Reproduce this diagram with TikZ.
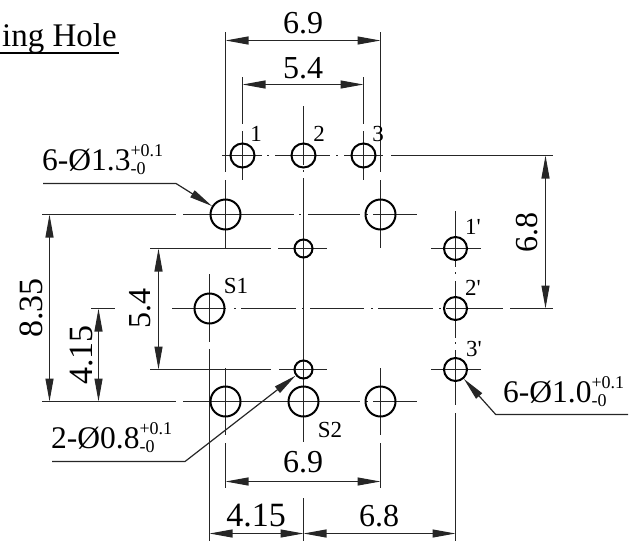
\documentclass[tikz,border=0pt]{standalone}
\usepackage{fontspec}
\setmainfont{Liberation Serif}[Ligatures=TeXOff]
\usetikzlibrary{arrows.meta}
\newcommand{\fsz}[1]{\fontsize{#1pt}{#1pt}\selectfont}
\newcommand{\tolr}[1]{#1\rlap{\raisebox{14pt}{\fsz{18}+0.1}}\raisebox{-4pt}{\fsz{18}-0}}
\tikzset{
  ctr/.style={line width=1.1pt,black!85},
  dimline/.style={line width=1.1pt,black!85,{Triangle[length=23pt,width=8pt]}-{Triangle[length=23pt,width=8pt]}},
  leader/.style={line width=1.2pt,black!85,-{Triangle[length=23pt,width=8pt]}},
  hole/.style={circle,draw=black,line width=2pt,fill=none,inner sep=0pt,minimum size=#1},
  bigtxt/.style={inner sep=0pt,anchor=base,font=\fsz{32}},
  vtxt/.style={inner sep=0pt,anchor=base,rotate=90,font=\fsz{34}},
  tagtxt/.style={inner sep=0pt,anchor=base,font=\fsz{23}},
  note/.style={inner sep=0pt,anchor=base west,font=\fsz{31.5}},
}
\begin{document}
\begin{tikzpicture}[x=1pt,y=-1pt]
\useasboundingbox (0,0) rectangle (639,541);
% title
\node[inner sep=0pt,anchor=base east,font=\fsz{33}] (title) at (117,46) {ing Hole};
\draw[line width=1.5pt] (0,53) -- (119,53);
% reference coordinates for dimensions
\coordinate (t69a) at (225.5,40.5); \coordinate (t69b) at (380.5,40.5);
\coordinate (t54a) at (242.5,84.5); \coordinate (t54b) at (363.5,84.5);
\coordinate (b69a) at (225.5,481.5); \coordinate (b69b) at (380.5,481.5);
\coordinate (b415a) at (209.5,533.5); \coordinate (bm) at (303.5,533.5); \coordinate (b68b) at (455.5,533.5);
\coordinate (l835a) at (49.5,214.5); \coordinate (l835b) at (49.5,401.5);
\coordinate (l415a) at (98.5,308.5); \coordinate (l415b) at (98.5,401.5);
\coordinate (l54a) at (158.5,248.5); \coordinate (l54b) at (158.5,369.5);
\coordinate (r68a) at (545.5,155.5); \coordinate (r68b) at (545.5,308.5);
% centre and extension lines: vertical
\draw[ctr] (225.5,32) -- (225.5,172) (225.5,180) -- (225.5,248);
\draw[ctr] (380.5,32) -- (380.5,172) (380.5,180) -- (380.5,248);
\draw[ctr] (242.5,77) -- (242.5,124) (242.5,131) -- (242.5,180);
\draw[ctr] (363.5,77) -- (363.5,124) (363.5,131) -- (363.5,180);
\draw[ctr] (303.5,106) -- (303.5,165) (303.5,170) -- (303.5,172) (303.5,178) -- (303.5,442) (303.5,498) -- (303.5,541);
\draw[ctr] (455.5,211) -- (455.5,267) (455.5,272) -- (455.5,274) (455.5,281) -- (455.5,338) (455.5,342) -- (455.5,344) (455.5,350) -- (455.5,405) (455.5,413) -- (455.5,541);
\draw[ctr] (209.5,274) -- (209.5,342) (209.5,349) -- (209.5,541);
\draw[ctr] (225.5,368) -- (225.5,435) (225.5,443) -- (225.5,488);
\draw[ctr] (380.5,368) -- (380.5,435) (380.5,443) -- (380.5,488);
% centre and extension lines: horizontal
\draw[ctr] (222,155.5) -- (262,155.5) (267,155.5) -- (269,155.5) (275,155.5) -- (330,155.5) (336,155.5) -- (338,155.5) (344,155.5) -- (383,155.5) (391,155.5) -- (553,155.5);
\draw[ctr] (42,214.5) -- (176,214.5) (183,214.5) -- (294,214.5) (299,214.5) -- (301,214.5) (308,214.5) -- (360,214.5) (366,214.5) -- (368,214.5) (373,214.5) -- (417,214.5);
\draw[ctr] (150,248.5) -- (271,248.5) (278,248.5) -- (327,248.5) (431,248.5) -- (481,248.5);
\draw[ctr] (91,308.5) -- (115,308.5) (172,308.5) -- (226,308.5) (234,308.5) -- (236,308.5) (241,308.5) -- (296,308.5) (302,308.5) -- (304,308.5) (310,308.5) -- (364,308.5) (371,308.5) -- (373,308.5) (378,308.5) -- (433,308.5) (439,308.5) -- (441,308.5) (446,308.5) -- (503,308.5) (510,308.5) -- (553,308.5);
\draw[ctr] (150,369.5) -- (271,369.5) (279,369.5) -- (327,369.5) (431,369.5) -- (481,369.5);
\draw[ctr] (42,401.5) -- (176,401.5) (183,401.5) -- (360,401.5) (366,401.5) -- (368,401.5) (373,401.5) -- (417,401.5);
% holes
\node[hole=24pt] (h1) at (242.5,155.5) {};
\node[hole=24pt] (h2) at (303.5,155.5) {};
\node[hole=24pt] (h3) at (363.5,155.5) {};
\node[hole=30pt] (a1) at (225.5,214.5) {};
\node[hole=30pt] (a2) at (380.5,214.5) {};
\node[hole=18pt] (m1) at (303.5,248.5) {};
\node[hole=18pt] (m2) at (303.5,369.5) {};
\node[hole=23pt] (p1) at (455.5,248.5) {};
\node[hole=23pt] (p2) at (455.5,308.5) {};
\node[hole=23pt] (p3) at (455.5,369.5) {};
\node[hole=30pt] (s1) at (209.5,308.5) {};
\node[hole=30pt] (b1) at (225.5,401.5) {};
\node[hole=30pt] (s2) at (303.5,401.5) {};
\node[hole=30pt] (b3) at (380.5,401.5) {};
% dimension arrows
\draw[dimline] (t69a) -- (t69b);
\draw[dimline] (t54a) -- (t54b);
\draw[dimline] (b69a) -- (b69b);
\draw[dimline] (b415a) -- (bm);
\draw[dimline] (bm) -- (b68b);
\draw[dimline] (l835a) -- (l835b);
\draw[dimline] (l415a) -- (l415b);
\draw[dimline] (l54a) -- (l54b);
\draw[dimline] (r68a) -- (r68b);
% numbers
\node[bigtxt] (d1) at (303,33) {6.9};
\node[bigtxt] (d2) at (303,78) {5.4};
\node[bigtxt] (d3) at (303,472) {6.9};
\node[bigtxt,font=\fsz{34}] (d4) at (256,526) {4.15};
\node[bigtxt] (d5) at (379,526) {6.8};
\node[vtxt] (d6) at (42,308) {8.35};
\node[vtxt] (d7) at (92,355) {4.15};
\node[vtxt,font=\fsz{32}] (d8) at (150,308) {5.4};
\node[vtxt,font=\fsz{32}] (d9) at (537,232) {6.8};
% hole tags
\node[tagtxt] (n1) at (256,141) {1};
\node[tagtxt] (n2) at (319,141) {2};
\node[tagtxt] (n3) at (378,141) {3};
\node[tagtxt] (n4) at (473,234) {1'};
\node[tagtxt] (n5) at (473,295) {2'};
\node[tagtxt] (n6) at (474,356) {3'};
\node[tagtxt] (n7) at (236,293) {S1};
\node[tagtxt] (n8) at (330,437) {S2};
% notes and leaders
\node[note] (t1) at (42,170) {\tolr{6-Ø1.3}};
\node[note] (t2) at (51,448) {\tolr{2-Ø0.8}};
\node[note] (t3) at (503,402) {\tolr{6-Ø1.0}};
\coordinate (q1) at (43,183.5); \coordinate (q1k) at (176,183.5);
\coordinate (q2) at (52,461.5); \coordinate (q2k) at (185,461.5);
\coordinate (q3) at (628,414.5); \coordinate (q3k) at (495.7,414.5);
\draw[leader] (q1) -- (q1k) -- (a1);
\draw[leader] (q2) -- (q2k) -- (m2);
\draw[leader] (q3) -- (q3k) -- (p3);
\end{tikzpicture}
\end{document}
